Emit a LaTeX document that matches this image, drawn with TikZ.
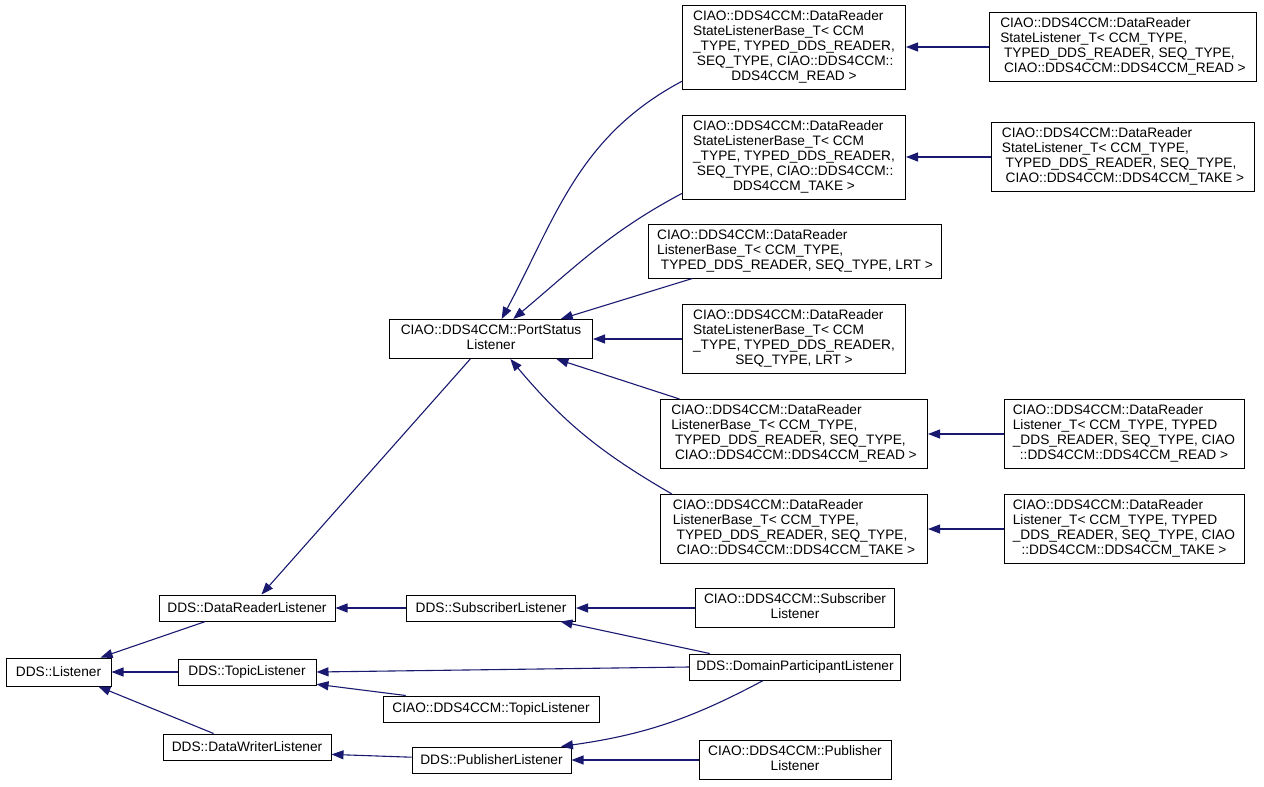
\documentclass[tikz,border=0pt]{standalone}
\usepackage{fontspec}
\setmainfont{Liberation Sans}
\usetikzlibrary{arrows.meta,positioning}

\definecolor{navyarrow}{HTML}{191970}
\newcommand{\boxlabel}[2]{\begin{tabular}{@{}l@{}}#1\\\multicolumn{1}{@{}c@{}}{#2}\end{tabular}}

\begin{document}
\begin{tikzpicture}[%
	x=1pt,y=1pt,on grid,
	font=\fontsize{13.7}{15}\selectfont,
	cls/.style={draw=black,line width=1pt,fill=white,inner xsep=4pt,
		inner ysep=4.5pt,minimum height=26pt,minimum width=#1},
	inherit/.style={draw=navyarrow,line width=1.1pt,
		-{Triangle[length=12pt,width=9pt]}}]

	\useasboundingbox (0,0) rectangle (1264,-787);

	% base classes on the left
	\node[cls=105pt,minimum height=28pt]	(L)	at (58.5,-672)	{DDS::Listener};
	\node[cls=138pt]	(TL)	[right=188.5pt of L]	{DDS::TopicListener};
	\node[cls=176pt]	(DRL)	[above=64pt of TL]	{DDS::DataReaderListener};
	\node[cls=168pt]	(DWL)	[below=75pt of TL]	{DDS::DataWriterListener};

	\node[cls=169pt]	(SL)	[right=244pt of DRL]	{DDS::SubscriberListener};
	\node[cls=216pt]	(CTL)	[below right=37pt and 244pt of TL]	{CIAO::DDS4CCM::TopicListener};
	\node[cls=159pt]	(PL)	[below right=13pt and 244.5pt of DWL]	{DDS::PublisherListener};
	\node[cls=203pt]	(PSL)	[above=269pt of SL]	{\boxlabel{CIAO::DDS4CCM::PortStatus}{Listener}};

	\node[cls=199pt]	(CSL)	[right=304pt of SL]	{\boxlabel{CIAO::DDS4CCM::Subscriber}{Listener}};
	\node[cls=211pt]	(DPL)	[below=59pt of CSL]	{DDS::DomainParticipantListener};
	\node[cls=192pt]	(CPL)	[right=303.5pt of PL]	{\boxlabel{CIAO::DDS4CCM::Publisher}{Listener}};

	% reader templates
	\node[cls=223pt]	(SLBL)	[right=303pt of PSL]	{%
		\boxlabel{CIAO::DDS4CCM::DataReader\\StateListenerBase\_T< CCM\\\_TYPE, TYPED\_DDS\_READER,}{SEQ\_TYPE, LRT >}};
	\node[cls=293pt]	(LBL)	[above right=88pt and 1pt of SLBL]	{%
		\boxlabel{CIAO::DDS4CCM::DataReader\\ListenerBase\_T< CCM\_TYPE,}{\ TYPED\_DDS\_READER, SEQ\_TYPE, LRT >}};
	\node[cls=223pt]	(SLBT)	[above left=94pt and 1pt of LBL]	{%
		\boxlabel{CIAO::DDS4CCM::DataReader\\StateListenerBase\_T< CCM\\\_TYPE, TYPED\_DDS\_READER,\\\ SEQ\_TYPE, CIAO::DDS4CCM::}{DDS4CCM\_TAKE >}};
	\node[cls=223pt]	(SLBR)	[above=110pt of SLBT]	{%
		\boxlabel{CIAO::DDS4CCM::DataReader\\StateListenerBase\_T< CCM\\\_TYPE, TYPED\_DDS\_READER,\\\ SEQ\_TYPE, CIAO::DDS4CCM::}{DDS4CCM\_READ >}};
	\node[cls=267pt]	(LBR)	[below=95pt of SLBL]	{%
		\boxlabel{CIAO::DDS4CCM::DataReader\\ListenerBase\_T< CCM\_TYPE,\\\ TYPED\_DDS\_READER, SEQ\_TYPE,}{\ CIAO::DDS4CCM::DDS4CCM\_READ >}};
	\node[cls=267pt]	(LBT)	[below=95pt of LBR]	{%
		\boxlabel{CIAO::DDS4CCM::DataReader\\ListenerBase\_T< CCM\_TYPE,\\\ TYPED\_DDS\_READER, SEQ\_TYPE,}{\ CIAO::DDS4CCM::DDS4CCM\_TAKE >}};

	% leaf classes on the right
	\node[cls=267pt]	(SLR)	[right=329pt of SLBR]	{%
		\boxlabel{CIAO::DDS4CCM::DataReader\\StateListener\_T< CCM\_TYPE,\\\ TYPED\_DDS\_READER, SEQ\_TYPE,}{\ CIAO::DDS4CCM::DDS4CCM\_READ >}};
	\node[cls=263pt]	(SLT)	[right=329pt of SLBT]	{%
		\boxlabel{CIAO::DDS4CCM::DataReader\\StateListener\_T< CCM\_TYPE,\\\ TYPED\_DDS\_READER, SEQ\_TYPE,}{\ CIAO::DDS4CCM::DDS4CCM\_TAKE >}};
	\node[cls=240pt]	(LR)	[right=330pt of LBR]	{%
		\boxlabel{CIAO::DDS4CCM::DataReader\\Listener\_T< CCM\_TYPE, TYPED\\\_DDS\_READER, SEQ\_TYPE, CIAO}{::DDS4CCM::DDS4CCM\_READ >}};
	\node[cls=240pt]	(LT)	[right=330pt of LBT]	{%
		\boxlabel{CIAO::DDS4CCM::DataReader\\Listener\_T< CCM\_TYPE, TYPED\\\_DDS\_READER, SEQ\_TYPE, CIAO}{::DDS4CCM::DDS4CCM\_TAKE >}};

	\path (SLR)	edge	[inherit]	(SLBR);
	\path (SLT)	edge	[inherit]	(SLBT);
	\path (LR)	edge	[inherit]	(LBR);
	\path (LT)	edge	[inherit]	(LBT);

	\path (SLBR.197)	edge	[inherit,out=208,in=62]	(PSL.62);
	\path (SLBT.198)	edge	[inherit,out=208,in=40]	(PSL.42);
	\path (LBL.195)	edge	[inherit]	(PSL.16);
	\path (SLBL)	edge	[inherit]	(PSL);
	\path (LBR.163)	edge	[inherit]	(PSL.343);
	\path (LBT.164)	edge	[inherit,out=150,in=-50]	(PSL.314);

	\path (PSL.224)	edge	[inherit]	(DRL.43);
	\path (DRL.198)	edge	[inherit]	(L.19);
	\path (TL)	edge	[inherit]	(L);
	\path (DWL.158)	edge	[inherit]	(L.340);

	\path (SL)	edge	[inherit]	(DRL);
	\path (CSL)	edge	[inherit]	(SL);
	\path (DPL.171)	edge	[inherit]	(SL.349);
	\path (DPL.west)	edge	[inherit]	(TL.east);
	\path (CTL.171)	edge	[inherit]	(TL.-10);
	\path (PL.178)	edge	[inherit]	(DWL.355);
	\path (DPL.203)	edge	[inherit,bend left=10]	(PL.11);
	\path (CPL)	edge	[inherit]	(PL);

\end{tikzpicture}
\end{document}
